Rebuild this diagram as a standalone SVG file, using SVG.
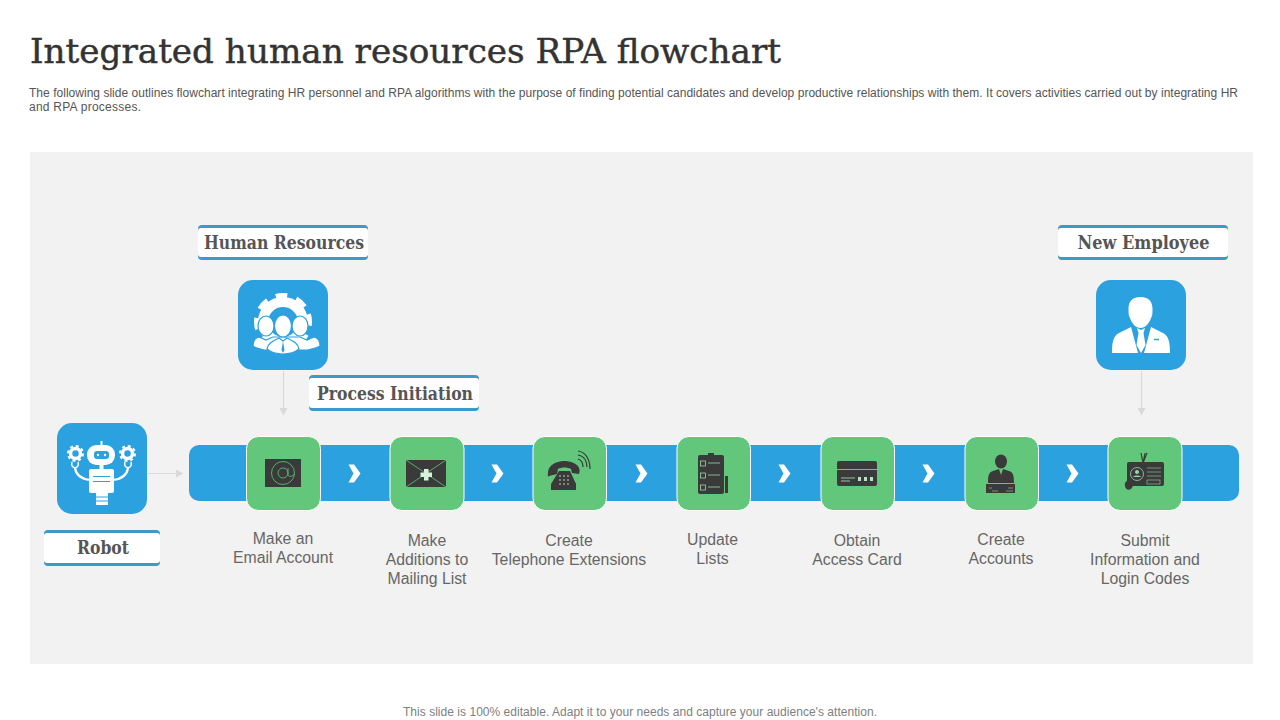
<svg xmlns="http://www.w3.org/2000/svg" width="1280" height="720" viewBox="0 0 1280 720">
<style>
text{font-family:"Liberation Sans",Arial,sans-serif}
.title{font-family:"DejaVu Serif","Liberation Serif",serif;font-size:33px;fill:#333;stroke:#333;stroke-width:.45}
.desc{font-size:12px;fill:#555}
.cap{font-size:15.800px;fill:#666;text-anchor:middle}
.tag{font-family:"DejaVu Serif","Liberation Serif",serif;font-size:18px;font-weight:bold;fill:#555;text-anchor:middle}
.foot{font-size:12px;fill:#808080;text-anchor:middle}
.tile{fill:#2ca1e0}
.green{fill:#62c77b;stroke:#fff;stroke-width:1}
.band{fill:#3c9ac8}
.plate{fill:#fff}
.chev{fill:#fff}
.conn{stroke:#d9d9d9;stroke-width:1.200;fill:none;marker-end:url(#ah)}
.dk{fill:#3a3a3a}
.dkl{fill:none;stroke:#62c77b;stroke-width:.8}
.w{fill:#fff}
.hd{fill:#fff;stroke:#2ca1e0;stroke-width:1.200}
</style>
<defs>
<marker id="ah" markerUnits="userSpaceOnUse" markerWidth="8" markerHeight="8" refX="7" refY="4" orient="auto"><path d="M0 0L7 4L0 8z" fill="#d9d9d9"/></marker>
<path id="chevron" class="chev" d="M-6.500 -9h5.500l6.500 9-6.500 9h-5.500l5-9z"/>
</defs>
<rect width="1280" height="720" fill="#fff"/>
<text class="title" x="30" y="63" textLength="751" lengthAdjust="spacingAndGlyphs">Integrated human resources RPA flowchart</text>
<text class="desc" x="29" y="97" textLength="1209" lengthAdjust="spacing">The following slide outlines flowchart integrating HR personnel and RPA algorithms with the purpose of finding potential candidates  and develop productive relationships with them. It covers activities carried out by integrating HR</text>
<text class="desc" x="29" y="111" textLength="112" lengthAdjust="spacing">and RPA processes.</text>
<rect x="30" y="152" width="1223" height="512" fill="#f2f2f2"/>

<g id="bar">
<rect x="189" y="445" width="1050" height="56" rx="10" class="tile"/>
<use href="#chevron" x="355" y="473.500"/><use href="#chevron" x="498" y="473.500"/><use href="#chevron" x="642" y="473.500"/><use href="#chevron" x="785" y="473.500"/><use href="#chevron" x="929" y="473.500"/><use href="#chevron" x="1073" y="473.500"/>
</g>

<g id="connectors">
<path class="conn" d="M283.500 371V415"/>
<path class="conn" d="M1141.500 371V415"/>
<path class="conn" d="M148 473.500H183"/>
</g>

<g id="node-hr">
<rect x="238" y="280" width="90" height="90" rx="15" class="tile"/>
<circle cx="283" cy="322" r="20" fill="none" stroke="#fff" stroke-width="10"/>
<circle cx="283" cy="322" r="25.500" fill="none" stroke="#fff" stroke-width="7" stroke-dasharray="11 9" transform="rotate(-17 283 322)"/>
<ellipse cx="266" cy="326" rx="8" ry="10" class="hd"/>
<ellipse cx="300" cy="326" rx="8" ry="10" class="hd"/>
<path class="hd" d="M253 346c0-5 2-8 6-9l7 3 7-3 27 0 7 3 7-3c4 1 6 4 6 9-3 2-8 3-12 4h-44c-4-1-9-2-11-4z"/>
<ellipse cx="283" cy="326" rx="8.500" ry="11" class="hd"/>
<path class="hd" d="M267 349c1-6 6-8 12-11l4 3 4-3c6 3 11 5 12 11-5 4-10 5-16 5s-11-1-16-5z"/>
<path d="M283 341l-1.500 9 1.500 3 1.500-3z" fill="#2ca1e0"/>
</g>

<g id="node-robot">
<rect x="57" y="423" width="90" height="91" rx="15" class="tile"/>
<path d="M101.500 441v6" stroke="#fff" stroke-width="2"/>
<rect x="87" y="445" width="28" height="20" rx="9.500" class="w"/>
<rect x="94" y="451" width="15" height="8" rx="3" class="tile"/>
<circle cx="98" cy="455" r="1.200" class="w"/><circle cx="105" cy="455" r="1.200" class="w"/>
<path d="M101.500 465v5" stroke="#fff" stroke-width="4"/>
<rect x="89" y="469" width="25" height="24" rx="2" class="w"/>
<path d="M93 476.500h17M93 481.500h17" stroke="#2ca1e0" stroke-width="1"/>
<path class="w" d="M96 493h12v12h-12z"/>
<path d="M96 497h12M96 501h12" stroke="#2ca1e0" stroke-width="1"/>
<circle cx="75.500" cy="453.500" r="5" fill="none" stroke="#fff" stroke-width="3.500"/>
<circle cx="127.500" cy="453.500" r="5" fill="none" stroke="#fff" stroke-width="3.500"/>
<circle cx="75.500" cy="453.500" r="7.500" fill="none" stroke="#fff" stroke-width="2" stroke-dasharray="3 2.900"/>
<circle cx="127.500" cy="453.500" r="7.500" fill="none" stroke="#fff" stroke-width="2" stroke-dasharray="3 2.900"/>
<path fill="none" stroke="#fff" stroke-width="1.500" d="M72 462c-1 3 0 5 3 6 3-1 4-3 3-6M125 462c-1 3 0 5 3 6 3-1 4-3 3-6"/>
<path fill="none" stroke="#fff" stroke-width="2.200" d="M75 468c1 7 7 11 15 12M128 468c-1 7-7 11-15 12"/>
</g>

<g id="node-employee">
<rect x="1096" y="280" width="90" height="90" rx="15" class="tile"/>
<path class="w" d="M1140.500 297c9 0 12 5 12 12 0 4 0 7-1.500 9-2 6-6 10-10.500 10s-8.500-4-10.500-10c-1.500-2-1.500-5-1.500-9 0-7 3-12 12-12z"/>
<path class="w" d="M1112 353c0-10 1-17 7-20l12-6 7 26zM1170 353c0-10-1-17-7-20l-12-6-7 26zM1137 328l4 2 4-2-1.500 5 2 12-4.500 8-4.500-8 2-12z"/>
<path d="M1154 339.500h5" stroke="#2ca1e0" stroke-width="1.500"/>
</g>

<g id="step-email">
<rect x="246.500" y="436.500" width="74" height="74" rx="12" class="green"/>
<rect x="265" y="459" width="36" height="28" class="dk"/>
<circle cx="283" cy="473" r="11.500" class="dkl"/><circle cx="283" cy="473" r="5" class="dkl"/><path class="dkl" d="M288 468v7c1 2 5 2 6-1"/>
</g>
<g id="step-mail">
<rect x="390" y="436.500" width="74" height="74" rx="12" class="green"/>
<rect x="406" y="460" width="40" height="27" class="dk"/>
<path class="dkl" d="M406 460l40 27M446 460l-40 27"/>
<path d="M424 469h4.500v3.500h3.500v4.500h-3.500v3.500h-4.500v-3.500h-3.500v-4.500h3.500z" fill="#d6f2dc"/>
</g>
<g id="step-phone">
<rect x="533" y="436.500" width="73.500" height="74" rx="12" class="green"/>
<path class="dk" d="M548 477c-1-9 3-13 10-15 6-2 14-1 19 3 3 3 3 6 2 9l-7-1-1-4c-4-2-9-2-13 0l-1 5-8 2z"/>
<path class="dk" d="M559 471h11l6 13v6h-25v-6z"/>
<g fill="#c8e6cf"><circle cx="560" cy="476" r=".8"/><circle cx="564" cy="476" r=".8"/><circle cx="568" cy="476" r=".8"/><circle cx="560" cy="480" r=".8"/><circle cx="564" cy="480" r=".8"/><circle cx="568" cy="480" r=".8"/><circle cx="560" cy="484" r=".8"/><circle cx="564" cy="484" r=".8"/><circle cx="568" cy="484" r=".8"/></g>
<path d="M578 459c3 1 5 4 5 8M578 455c6 1 9 6 9 12M578 451c8 1 12 9 12 18" fill="none" stroke="#3a3a3a" stroke-width="1.200"/>
</g>
<g id="step-lists">
<rect x="677" y="436.500" width="73.500" height="74" rx="12" class="green"/>
<rect x="698" y="455" width="26" height="39" rx="2" class="dk"/>
<rect x="708" y="453" width="6" height="3" class="dk"/>
<rect x="725" y="476" width="3" height="17" class="dk"/>
<g fill="none" stroke="#9ad5a8" stroke-width=".8"><rect x="700.500" y="461" width="5" height="5"/><rect x="700.500" y="473" width="5" height="5"/><rect x="700.500" y="485" width="5" height="5"/><path d="M708 463h12M708 475h12M708 487h12"/></g>
</g>
<g id="step-card">
<rect x="821" y="436.500" width="73.500" height="74" rx="12" class="green"/>
<rect x="837" y="461" width="40" height="25" rx="2" class="dk"/>
<path d="M837 469.500h40" stroke="#62c77b" stroke-width="1"/>
<path d="M841 478h14M841 481h9" stroke="#b6e2c2" stroke-width=".8"/>
<path d="M858 477h3v4h-3zM864 477h3v4h-3zM870 477h3v4h-3z" fill="#b6e2c2"/>
</g>
<g id="step-accounts">
<rect x="965" y="436.500" width="73.500" height="74" rx="12" class="green"/>
<ellipse cx="1001" cy="461.500" rx="6" ry="7" class="dk"/>
<path class="dk" d="M988 483c0-8 1-11 5-12l6-2 2 6 2-6 6 2c4 1 5 4 5 12z"/>
<rect x="986" y="484" width="29" height="9" class="dk"/>
<path d="M989 488h3M1008 488h5M992 491h6M1006 491h7" stroke="#9ad5a8" stroke-width=".6"/>
</g>
<g id="step-submit">
<rect x="1108" y="436.500" width="74" height="74" rx="12" class="green"/>
<path d="M1143 463l-2-10M1143 463l2-10M1143 463l4-10" stroke="#3a3a3a" stroke-width="1.200"/>
<rect x="1127" y="462" width="37" height="24" rx="2" class="dk"/>
<circle cx="1137" cy="474" r="6.500" fill="none" stroke="#9ad5a8" stroke-width=".8"/>
<path d="M1133 477c1-2 7-2 8 0zM1137 470a2 2 0 1 0 .01 0z" fill="#9ad5a8"/>
<path d="M1147 468h14M1147 472h14M1147 476h14" stroke="#9ad5a8" stroke-width=".6"/>
<rect x="1147" y="480" width="13" height="4" fill="none" stroke="#9ad5a8" stroke-width=".6"/>
<path class="dk" d="M1125 483l5-6 5 6-4 6c-3 2-7 0-6-6z"/>
</g>

<g id="label-hr">
<rect x="198" y="225" width="170" height="35" rx="4" class="band"/><rect x="198" y="228" width="170" height="29" rx="3" class="plate"/>
<text class="tag" x="284" y="248.500" textLength="160" lengthAdjust="spacingAndGlyphs">Human Resources</text>
</g>
<g id="label-process">
<rect x="309" y="375" width="170" height="36" rx="4" class="band"/><rect x="309" y="378" width="170" height="30" rx="3" class="plate"/>
<text class="tag" x="395" y="399.500" textLength="156" lengthAdjust="spacingAndGlyphs">Process Initiation</text>
</g>
<g id="label-robot">
<rect x="44" y="530" width="116" height="36" rx="4" class="band"/><rect x="44" y="533" width="116" height="30" rx="3" class="plate"/>
<text class="tag" x="103" y="553.500" textLength="52" lengthAdjust="spacingAndGlyphs">Robot</text>
</g>
<g id="label-employee">
<rect x="1058" y="225" width="170" height="35" rx="4" class="band"/><rect x="1058" y="228" width="170" height="29" rx="3" class="plate"/>
<text class="tag" x="1143.500" y="248.500" textLength="132" lengthAdjust="spacingAndGlyphs">New Employee</text>
</g>

<g id="captions">
<text class="cap" x="283" y="544">Make an</text><text class="cap" x="283" y="563">Email Account</text>
<text class="cap" x="427" y="546">Make</text><text class="cap" x="427" y="565">Additions to</text><text class="cap" x="427" y="584">Mailing List</text>
<text class="cap" x="569" y="546">Create</text><text class="cap" x="569" y="565">Telephone  Extensions</text>
<text class="cap" x="712.500" y="545">Update</text><text class="cap" x="712.500" y="564">Lists</text>
<text class="cap" x="857" y="546">Obtain</text><text class="cap" x="857" y="565">Access Card</text>
<text class="cap" x="1001" y="545">Create</text><text class="cap" x="1001" y="564">Accounts</text>
<text class="cap" x="1145" y="546">Submit</text><text class="cap" x="1145" y="565">Information  and</text><text class="cap" x="1145" y="584">Login Codes</text>
</g>
<text class="foot" x="640" y="716" textLength="474" lengthAdjust="spacing">This slide is 100% editable. Adapt it to your needs and capture your audience's attention.</text>
</svg>
